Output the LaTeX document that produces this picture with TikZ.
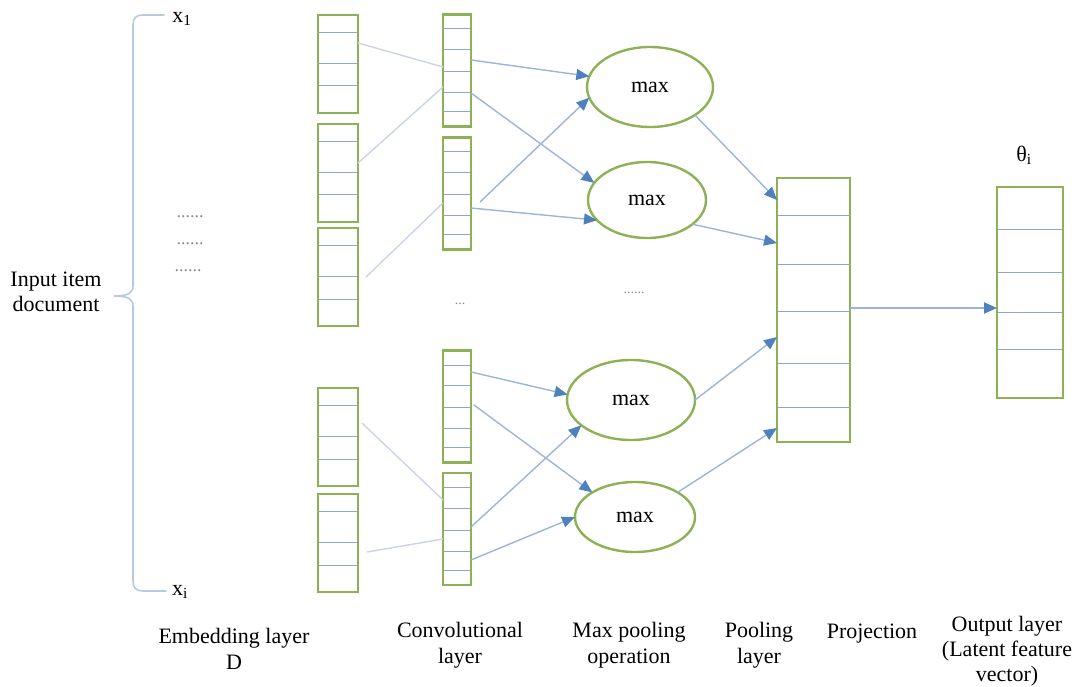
\documentclass[tikz,border=0pt]{standalone}
\usepackage{fontspec}
\setmainfont{Liberation Serif}
\usetikzlibrary{arrows.meta,shapes.geometric}

\definecolor{boxgreen}{HTML}{8DB255}
\definecolor{cellline}{HTML}{8FA6D0}
\definecolor{linkblue}{HTML}{9DB4DA}
\definecolor{headblue}{HTML}{4F81BD}
\definecolor{linkgrey}{HTML}{CBD3E4}
\definecolor{bracecol}{HTML}{B9C9E4}
\definecolor{dotgrey}{HTML}{8A8A8A}

\tikzset{
  every node/.style={font=\fontsize{22}{26}\selectfont, inner sep=0pt, outer sep=0pt},
  vecbox/.style 2 args={draw=boxgreen, line width=2.7pt, minimum width=#1pt, minimum height=#2pt},
  maxnode/.style={ellipse, draw=boxgreen, line width=2.4pt, minimum width=#1},
  cell/.style={draw=cellline, line width=1pt, shorten <=1.3pt, shorten >=1.3pt},
  emblink/.style={draw=linkgrey, line width=1.4pt},
  arr/.style={draw=linkblue, line width=1.4pt, -{Triangle[length=13pt,width=11pt,color=headblue]}},
  brace/.style={draw=bracecol, line width=1.6pt, line cap=round},
  dots/.style={font=\fontsize{18}{18}\selectfont, text=dotgrey},
  label/.style={align=center, anchor=north}
}

\begin{document}
\begin{tikzpicture}[x=1pt, y=-1pt]
\useasboundingbox (0,0) rectangle (1079,687);

% input document and its brace
\node[label, font=\fontsize{22}{25}\selectfont] (doc) at (56,272) {Input item\\document};
\draw[brace] (164,15) -- (143,15) .. controls (136,15) and (133,18) .. (133,25)
  -- (133,286) .. controls (133,293) and (128,296) .. (114,296)
  .. controls (128,296) and (133,299) .. (133,306)
  -- (133,581) .. controls (133,588) and (136,591) .. (143,591) -- (166,591);
\node (x1) at (182,19) {x\textsubscript{1}};
\node (xi) at (180,592) {x\textsubscript{i}};
\node[dots] (d1) at (190,217) {......};
\node[dots] (d2) at (190,244) {......};
\node[dots] (d3) at (188,271) {......};

% embedding layer
\node[vecbox={40}{98}] (E1) at (338,64) {};
\node[vecbox={40}{98}] (E2) at (338,173) {};
\node[vecbox={40}{98}] (E3) at (338,277) {};
\node[vecbox={40}{98}] (E4) at (338,437) {};
\node[vecbox={40}{98}] (E5) at (338,543) {};
\foreach \n in {E1,E2,E3,E4,E5}
  \foreach \d in {17.5,48.5,71}
    \draw[cell] ([yshift=-\d pt]\n.north west) -- ([yshift=-\d pt]\n.north east);

% convolutional layer
\node[vecbox={28}{112}] (CA) at (457,70.5) {};
\node[vecbox={28}{112}] (CB) at (457,193.5) {};
\node[vecbox={28}{112}] (CC) at (457,406.5) {};
\node[vecbox={28}{112}] (CD) at (457,529) {};
\foreach \n in {CA,CB,CC,CD}
  \foreach \d in {14.5,35,57,78,97}
    \draw[cell] ([yshift=-\d pt]\n.north west) -- ([yshift=-\d pt]\n.north east);
\node[dots, font=\fontsize{14}{14}\selectfont] (dc) at (460,304) {...};

% max pooling
\node[maxnode=126pt, minimum height=80pt] (M1) at (650,87) {max};
\node[maxnode=118pt, minimum height=76pt] (M2) at (647,200) {max};
\node[maxnode=128pt, minimum height=80pt] (M3) at (631,400) {max};
\node[maxnode=120pt, minimum height=70pt] (M4) at (635,517) {max};
\node[dots, font=\fontsize{14}{14}\selectfont] (dm) at (634,293) {......};

% pooling layer
\node[vecbox={73}{264}] (P) at (813.5,310) {};
\foreach \d in {38,86,133,185,229}
  \draw[cell] ([yshift=-\d pt]P.north west) -- ([yshift=-\d pt]P.north east);

% output layer
\node[vecbox={66}{211}] (O) at (1030,292.5) {};
\foreach \d in {43,85,125,162}
  \draw[cell] ([yshift=-\d pt]O.north west) -- ([yshift=-\d pt]O.north east);
\node (theta) at (1024,155) {θ\textsubscript{i}};

% embedding -> convolution
\draw[emblink] ([yshift=21pt]E1.east) -- ([yshift=3.5pt]CA.west);
\draw[emblink] ([yshift=10pt]E2.east) -- ([yshift=-16.5pt]CA.west);
\draw[emblink] ([xshift=8pt]E3.east) -- ([yshift=-9.5pt]CB.west);
\draw[emblink] ([xshift=4pt,yshift=14pt]E4.east) -- ([yshift=29pt]CD.west);
\draw[emblink] ([xshift=9pt,yshift=-9pt]E5.east) -- ([yshift=-10pt]CD.west);

% convolution -> max
\draw[arr] ([yshift=10.5pt]CA.east) -- (M1.170);
\draw[arr] ([yshift=-22.5pt]CA.east) -- (M2.162);
\draw[arr] ([xshift=9pt,yshift=-8.5pt]CB.east) -- (M1.190);
\draw[arr] ([yshift=-14.5pt]CB.east) -- (M2.202);
\draw[arr] ([yshift=34.5pt]CC.east) -- (M3.175);
\draw[arr] ([xshift=3pt,yshift=1.5pt]CC.east) -- (M4.150);
\draw[arr] ([yshift=2pt]CD.east) -- (M3.207);
\draw[arr] ([yshift=-31pt]CD.east) -- (M4.west);

% max -> pooling
\draw[arr] (M1.-32) -- ([yshift=110pt]P.west);
\draw[arr] (M2.-28) -- ([yshift=67pt]P.west);
\draw[arr] (M3.east) -- ([yshift=-27pt]P.west);
\draw[arr] (M4.30) -- ([yshift=-118pt]P.west);

% pooling -> output
\draw[arr, line width=2pt] ([yshift=2pt]P.east) -- ([yshift=-15.5pt]O.west);

% layer captions
\node[label] (cap1) at (234,628) {Embedding layer\\D};
\node[label] (cap2) at (460,622) {Convolutional\\layer};
\node[label] (cap3) at (629,622) {Max pooling\\operation};
\node[label] (cap4) at (759,622) {Pooling\\layer};
\node[label] (cap5) at (872,624) {Projection};
\node[label, font=\fontsize{22}{25}\selectfont] (cap6) at (1007,616) {Output layer\\(Latent feature\\vector)};
\end{tikzpicture}
\end{document}
